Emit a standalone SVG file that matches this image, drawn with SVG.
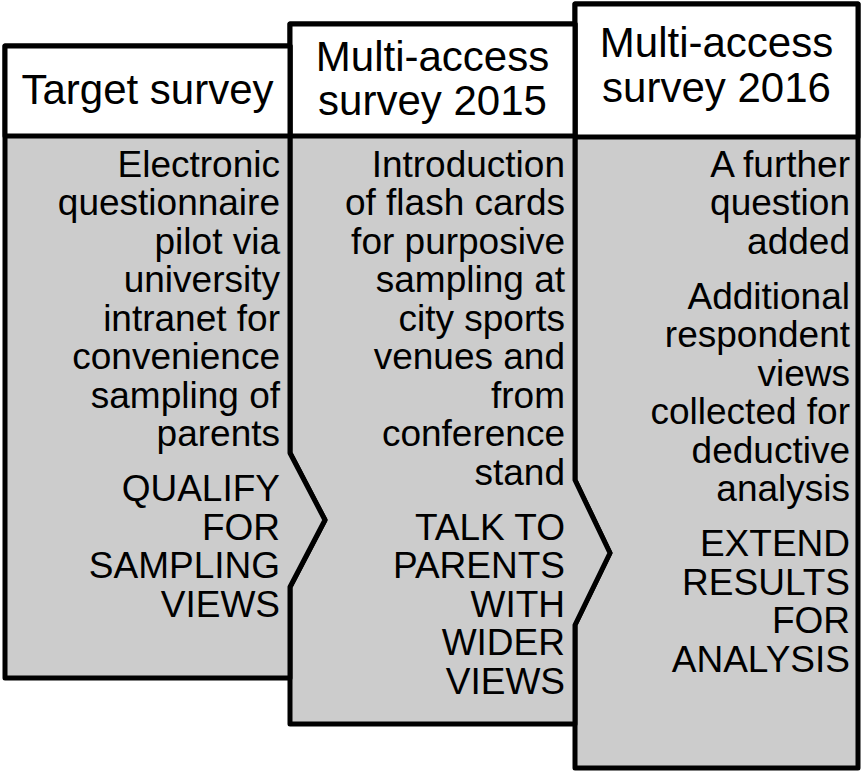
<svg xmlns="http://www.w3.org/2000/svg" width="861" height="774" viewBox="0 0 861 774">
<style>
.box{stroke:#000;stroke-width:5;stroke-linejoin:round}
.head{fill:#fff}
.body{fill:#cccccc}
.ht{font-family:"Liberation Sans",Arial,sans-serif;font-size:42px;fill:#000;text-anchor:middle}
.bt{font-family:"Liberation Sans",Arial,sans-serif;font-size:37px;fill:#000;text-anchor:end}
</style>
<rect width="861" height="774" fill="#fff"/>
<g id="col3">
  <path class="box body" d="M575,4 H858 V768 H575 V625 L610,553 L575,480 Z"/>
  <rect class="box head" x="575" y="4" width="283" height="133"/>
  <text class="ht" x="716.5" y="57">Multi-access</text>
  <text class="ht" x="716.5" y="102">survey 2016</text>
  <text class="bt" x="850" y="176.5">A further</text>
  <text class="bt" x="850" y="215">question</text>
  <text class="bt" x="850" y="253.5">added</text>
  <text class="bt" x="850" y="308.5">Additional</text>
  <text class="bt" x="850" y="347">respondent</text>
  <text class="bt" x="850" y="385.5">views</text>
  <text class="bt" x="850" y="424">collected for</text>
  <text class="bt" x="850" y="462.5">deductive</text>
  <text class="bt" x="850" y="501">analysis</text>
  <text class="bt" x="850" y="556">EXTEND</text>
  <text class="bt" x="850" y="594.5">RESULTS</text>
  <text class="bt" x="850" y="633">FOR</text>
  <text class="bt" x="850" y="671.5">ANALYSIS</text>
</g>
<g id="col2">
  <path class="box body" d="M290,24 H575 V480 L610,553 L575,625 V724 H290 V587 L325,520 L290,453 Z"/>
  <rect class="box head" x="290" y="24" width="285" height="112"/>
  <text class="ht" x="432.5" y="71">Multi-access</text>
  <text class="ht" x="432.5" y="115">survey 2015</text>
  <text class="bt" x="565" y="176.5">Introduction</text>
  <text class="bt" x="565" y="215">of flash cards</text>
  <text class="bt" x="565" y="253.5">for purposive</text>
  <text class="bt" x="565" y="292">sampling at</text>
  <text class="bt" x="565" y="330.5">city sports</text>
  <text class="bt" x="565" y="369">venues and</text>
  <text class="bt" x="565" y="407.5">from</text>
  <text class="bt" x="565" y="446">conference</text>
  <text class="bt" x="565" y="484.5">stand</text>
  <text class="bt" x="565" y="539.5">TALK TO</text>
  <text class="bt" x="565" y="578">PARENTS</text>
  <text class="bt" x="565" y="616.5">WITH</text>
  <text class="bt" x="565" y="655">WIDER</text>
  <text class="bt" x="565" y="693.5">VIEWS</text>
</g>
<g id="col1">
  <path class="box body" d="M5,46 H290 V453 L325,520 L290,587 V678 H5 Z"/>
  <rect class="box head" x="5" y="46" width="285" height="90"/>
  <text class="ht" x="147.5" y="104">Target survey</text>
  <text class="bt" x="280" y="176.5">Electronic</text>
  <text class="bt" x="280" y="215">questionnaire</text>
  <text class="bt" x="280" y="253.5">pilot via</text>
  <text class="bt" x="280" y="292">university</text>
  <text class="bt" x="280" y="330.5">intranet for</text>
  <text class="bt" x="280" y="369">convenience</text>
  <text class="bt" x="280" y="407.5">sampling of</text>
  <text class="bt" x="280" y="446">parents</text>
  <text class="bt" x="280" y="501">QUALIFY</text>
  <text class="bt" x="280" y="539.5">FOR</text>
  <text class="bt" x="280" y="578">SAMPLING</text>
  <text class="bt" x="280" y="616.5">VIEWS</text>
</g>
<g id="connectors"></g>
</svg>
